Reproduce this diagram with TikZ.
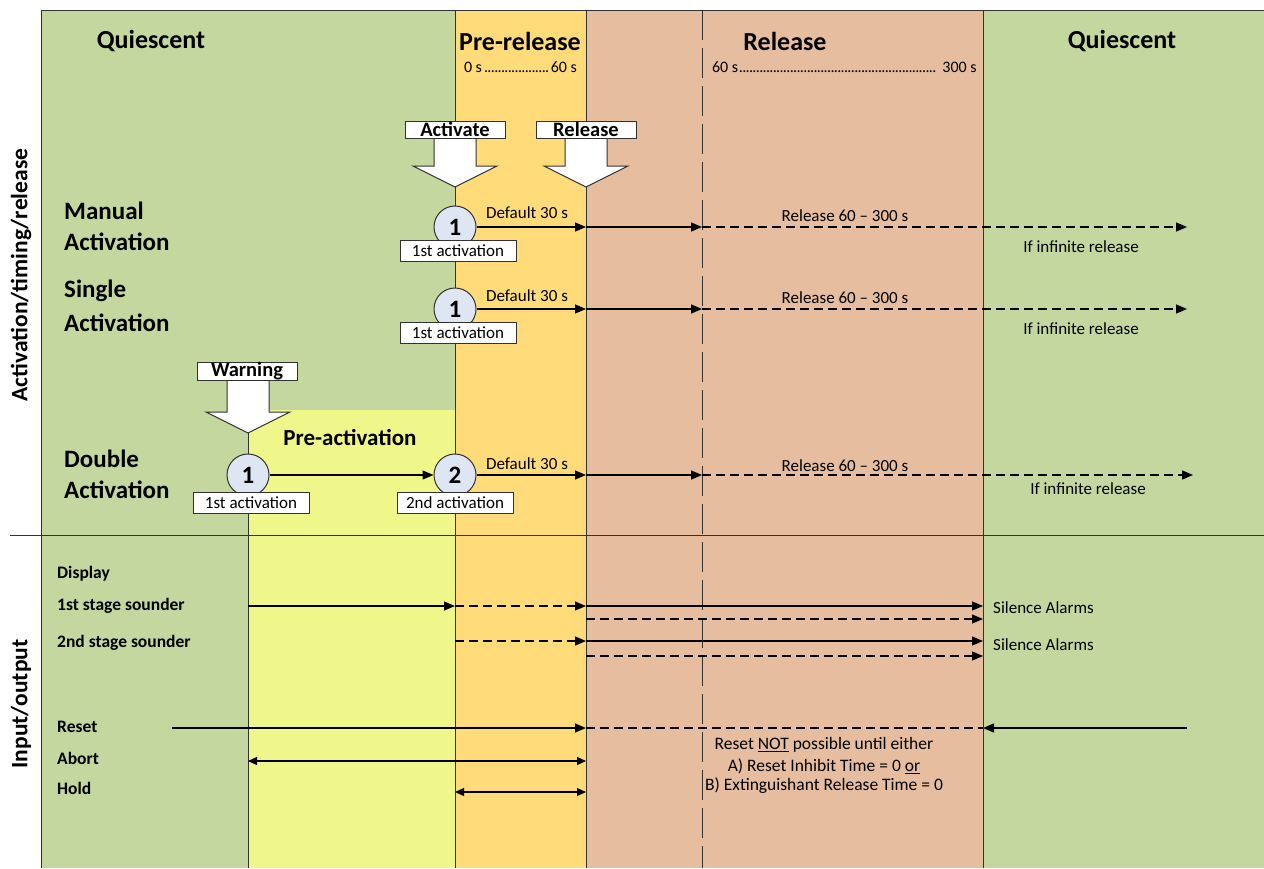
\documentclass[tikz,border=0pt]{standalone}
\usepackage{fontspec}
\setmainfont{Carlito}
\usetikzlibrary{arrows.meta}
\definecolor{qgreen}{RGB}{196,215,158}
\definecolor{pyellow}{RGB}{240,247,138}
\definecolor{prerel}{RGB}{255,219,122}
\definecolor{relc}{RGB}{230,190,159}
\definecolor{circfill}{RGB}{221,230,242}
\definecolor{lin}{RGB}{50,50,50}
\newcommand{\mydots}{\leaders\hbox to 3.4pt{\hss.\hss}\hfill}
\begin{document}
\begin{tikzpicture}[x=1pt,y=-1pt,
  title/.style={font=\fontsize{26}{30}\selectfont\bfseries},
  sidelab/.style={font=\fontsize{23.5}{27}\selectfont\bfseries, rotate=90},
  rowlab/.style={font=\fontsize{25}{29}\selectfont\bfseries, anchor=west, inner sep=0},
  iolab/.style={font=\fontsize{17.5}{20}\selectfont\bfseries, anchor=west, inner sep=0},
  txt/.style={font=\fontsize{17}{20}\selectfont, inner sep=0},
  smalltxt/.style={font=\fontsize{16}{19}\selectfont, inner sep=0},
  notetxt/.style={font=\fontsize{17.5}{20}\selectfont, inner sep=0},
  circ/.style={circle, draw=lin, line width=1pt, fill=circfill, minimum size=42pt, inner sep=0, font=\fontsize{25}{29}\selectfont\bfseries},
  actbox/.style={draw=lin, line width=1pt, fill=white, minimum width=116pt, minimum height=21pt, inner sep=0, font=\fontsize{17}{20}\selectfont},
  headbox/.style={draw=lin, line width=1pt, fill=white, minimum width=100pt, minimum height=17pt, inner sep=0, font=\fontsize{20.5}{22}\selectfont\bfseries},
  blockarrow/.style={draw=lin, line width=1pt, fill=white},
  border/.style={draw=lin, line width=1pt},
  longdash/.style={draw=lin, line width=1pt, dash pattern=on 30pt off 8pt},
  arr/.style={line width=1.3pt, -{Triangle[length=11pt,width=9pt]}},
  dbl/.style={line width=1.3pt, {Triangle[length=9pt,width=8pt]}-{Triangle[length=9pt,width=8pt]}},
  dsh/.style={dash pattern=on 9pt off 5pt}
]
\useasboundingbox (0,0) rectangle (1264,868);
\fill[white] (0,0) rectangle (1264,868);
% backgrounds
\fill[qgreen] (41,10) rectangle (1264,868);
\fill[pyellow] (248,410) rectangle (455,868);
\fill[prerel] (455,10) rectangle (586,868);
\fill[relc] (586,10) rectangle (983,868);
% frame lines
\draw[border] (41,10) -- (1264,10);
\draw[border] (41,10) -- (41,868);
\draw[border] (455,10) -- (455,868);
\draw[border] (586,10) -- (586,868);
\draw[border] (983,10) -- (983,868);
\draw[border] (248,433) -- (248,868);
\draw[longdash] (702,10) -- (702,868);
\draw[border] (10,535) -- (1264,535);
% side labels
\node[sidelab] (sideA) at (21,275) {Activation/timing/release};
\node[sidelab] (sideB) at (21,704) {Input/output};
% headers
\node[title] (hq1) at (151,41) {Quiescent};
\node[title] (hpr) at (520,41) {Pre-release};
\node[smalltxt] (hprt) at (520.5,67) {\makebox[113pt]{0 s\mydots 60 s}};
\node[title] (hrel) at (785,41) {Release};
\node[smalltxt] (hrelt) at (844.5,67) {\makebox[265pt]{60 s\mydots\ 300 s}};
\node[title] (hq2) at (1122,41) {Quiescent};
% block arrows
\draw[blockarrow] (434,137) -- (434,166) -- (413,166) -- (455,187) -- (497,166) -- (476,166) -- (476,137);
\node[headbox] (bActivate) at (455,129.5) {Activate};
\draw[blockarrow] (565,137) -- (565,166) -- (544,166) -- (586,187) -- (628,166) -- (607,166) -- (607,137);
\node[headbox] (bRelease) at (586,129.5) {Release};
\draw[blockarrow] (227,380) -- (227,412) -- (206,412) -- (248,433) -- (290,412) -- (269,412) -- (269,380);
\node[headbox] (bWarning) at (247,371.5) {Warning};
\node[font=\fontsize{23}{27}\selectfont\bfseries] (preact) at (350,437) {Pre-activation};
% row labels
\node[rowlab] (lman1) at (64,211) {Manual};
\node[rowlab] (lman2) at (64,242) {Activation};
\node[rowlab] (lsin1) at (64,291) {Single};
\node[rowlab] (lsin2) at (64,323) {Activation};
\node[rowlab] (ldou1) at (64,459) {Double};
\node[rowlab] (ldou2) at (64,490) {Activation};
% row 1
\node[circ] (m1) at (455,227) {1};
\node[actbox] (m1lab) at (458,251) {1st activation};
\coordinate (m1a) at (586,227);
\coordinate (m1b) at (702,227);
\coordinate (m1c) at (1187,227);
\draw[arr] (m1.east) -- (m1a);
\draw[arr] (m1a) -- (m1b);
\draw[arr,dsh] (m1b) -- (m1c);
\node[txt] (m1t1) at (527,213) {Default 30 s};
\node[txt] (m1t2) at (845,216) {Release 60 – 300 s};
\node[txt] (m1t3) at (1081,247) {If infinite release};
% row 2
\node[circ] (s1) at (455,309) {1};
\node[actbox] (s1lab) at (458,333) {1st activation};
\coordinate (s1a) at (586,309);
\coordinate (s1b) at (702,309);
\coordinate (s1c) at (1187,309);
\draw[arr] (s1.east) -- (s1a);
\draw[arr] (s1a) -- (s1b);
\draw[arr,dsh] (s1b) -- (s1c);
\node[txt] (s1t1) at (527,296) {Default 30 s};
\node[txt] (s1t2) at (845,298) {Release 60 – 300 s};
\node[txt] (s1t3) at (1081,329) {If infinite release};
% row 3
\node[circ] (d1) at (248,475) {1};
\node[actbox] (d1lab) at (251,503) {1st activation};
\node[circ] (d2) at (455,475) {2};
\node[actbox] (d2lab) at (455,503) {2nd activation};
\coordinate (d2a) at (586,475);
\coordinate (d2b) at (702,475);
\coordinate (d2c) at (1193,475);
\draw[arr] (d1.east) -- (d2.west);
\draw[arr] (d2.east) -- (d2a);
\draw[arr] (d2a) -- (d2b);
\draw[arr,dsh] (d2b) -- (d2c);
\node[txt] (d1t1) at (527,464) {Default 30 s};
\node[txt] (d1t2) at (845,466) {Release 60 – 300 s};
\node[txt] (d1t3) at (1088,489) {If infinite release};
% input/output labels
\node[iolab] (iDisp) at (57,574) {Display};
\node[iolab] (iS1) at (57,606) {1st stage sounder};
\node[iolab] (iS2) at (57,643) {2nd stage sounder};
\node[iolab] (iReset) at (57,727) {Reset};
\node[iolab] (iAbort) at (57,758) {Abort};
\node[iolab] (iHold) at (57,788) {Hold};
% 1st stage sounder
\coordinate (a1) at (248,606);
\coordinate (a2) at (455,606);
\coordinate (a3) at (586,606);
\coordinate (a4) at (983,606);
\coordinate (a5) at (586,619);
\coordinate (a6) at (983,619);
\draw[arr] (a1) -- (a2);
\draw[arr,dsh] (a2) -- (a3);
\draw[arr] (a3) -- (a4);
\draw[arr,dsh] (a5) -- (a6);
\node[txt, anchor=west] (sil1) at (993,608) {Silence Alarms};
% 2nd stage sounder
\coordinate (b2) at (455,641);
\coordinate (b3) at (586,641);
\coordinate (b4) at (983,641);
\coordinate (b5) at (586,656);
\coordinate (b6) at (983,656);
\draw[arr,dsh] (b2) -- (b3);
\draw[arr] (b3) -- (b4);
\draw[arr,dsh] (b5) -- (b6);
\node[txt, anchor=west] (sil2) at (993,645) {Silence Alarms};
% reset
\coordinate (r1) at (172,728);
\coordinate (r2) at (586,728);
\coordinate (r3) at (983,728);
\coordinate (r4) at (1187,728);
\draw[arr] (r1) -- (r2);
\draw[line width=1.3pt,dsh] (r2) -- (r3);
\draw[arr] (r4) -- (r3);
\node[notetxt] (rt1) at (824,745) {Reset \underline{NOT} possible until either};
\node[notetxt] (rt2) at (824,766) {A) Reset Inhibit Time = 0 \underline{or}};
\node[notetxt] (rt3) at (824,786) {B) Extinguishant Release Time = 0};
% abort / hold
\coordinate (ab1) at (248,761);
\coordinate (ab2) at (586,761);
\draw[dbl] (ab1) -- (ab2);
\coordinate (h1) at (455,792);
\coordinate (h2) at (586,792);
\draw[dbl] (h1) -- (h2);
\end{tikzpicture}
\end{document}
